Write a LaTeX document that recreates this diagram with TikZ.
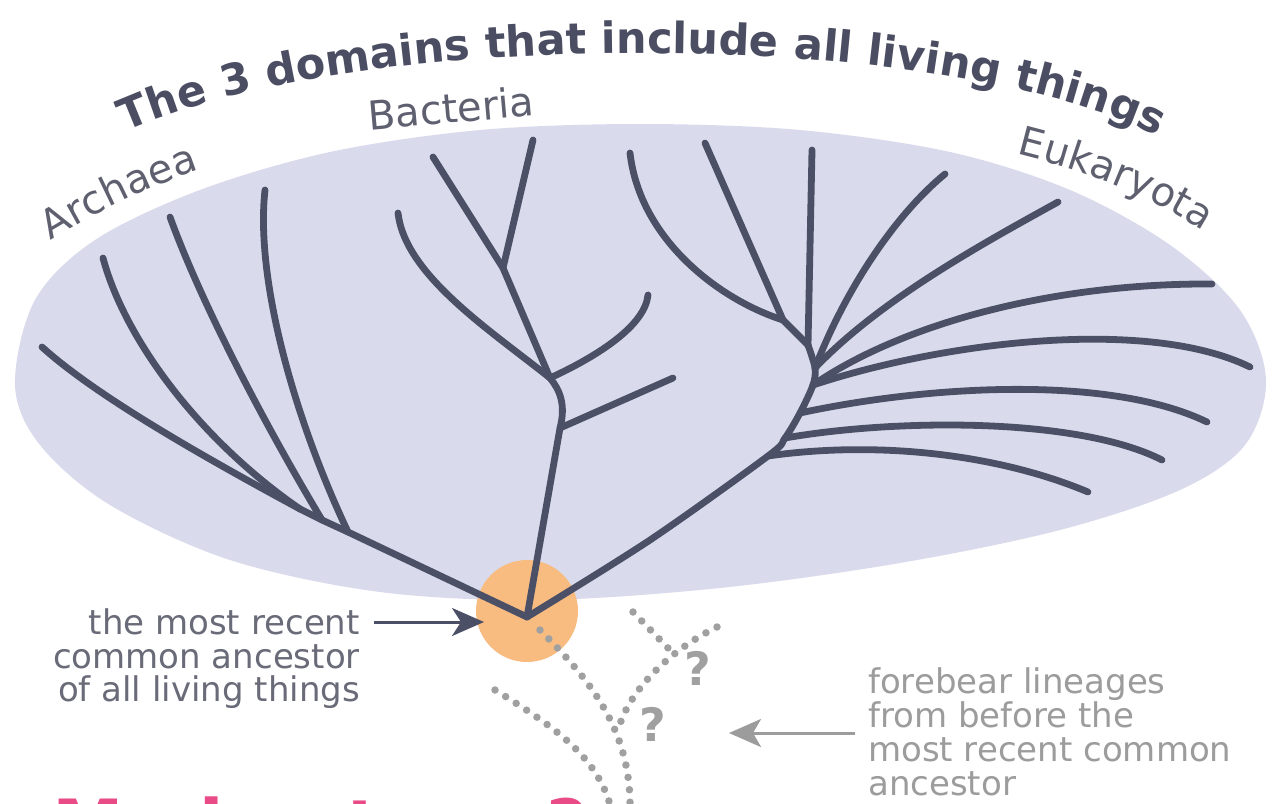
\documentclass[tikz,border=0pt]{standalone}
\usepackage{fontspec}
\setmainfont{DejaVu Sans}
\usetikzlibrary{decorations.text,arrows.meta}
\definecolor{lav}{RGB}{217,219,236}
\definecolor{branch}{RGB}{76,80,102}
\definecolor{titlec}{RGB}{75,78,98}
\definecolor{labelc}{RGB}{94,96,112}
\definecolor{leftc}{RGB}{105,107,120}
\definecolor{rightc}{RGB}{156,156,156}
\definecolor{dotc}{RGB}{160,160,160}
\definecolor{orangec}{RGB}{248,187,128}
\definecolor{pinkc}{RGB}{233,75,134}
\begin{document}
\begin{tikzpicture}[x=1pt,y=-1pt,
  br/.style={draw=branch,line width=6.8pt,line cap=round,line join=round},
  dotline/.style={draw=dotc,line width=7.5pt,line cap=round,dash pattern=on 0pt off 12.5pt},
  lefttxt/.style={text=leftc,font=\fontsize{34}{34}\selectfont,inner sep=0pt,anchor=base east},
  righttxt/.style={text=rightc,font=\fontsize{34}{34}\selectfont,inner sep=0pt,anchor=base west},
  qmark/.style={text=dotc,font=\bfseries\fontsize{46}{46}\selectfont,inner sep=0pt},
  lbl/.style={text=labelc,font=\fontsize{40}{40}\selectfont,inner sep=0pt},
]
\useasboundingbox (0,0) rectangle (1281,803);
\fill[white] (0,0) rectangle (1281,803);

% domain oval
\fill[lav] plot[smooth cycle, tension=0.55] coordinates {
  (15,385) (35,300) (95,240) (200,190) (330,152) (480,130) (640,124)
  (800,130) (950,152) (1070,190) (1170,245) (1240,310) (1266,380)
  (1245,445) (1180,490) (1060,530) (900,563) (720,588) (540,600)
  (380,592) (230,560) (110,505) (40,445)};

% ancestor disc
\fill[orangec] (527,611) circle[radius=51pt];

% tree
\coordinate (R) at (527,617);
% Archaea
\coordinate (A0) at (348,532);
\coordinate (A1) at (322,520);
\coordinate (A2) at (300,509);
\coordinate (a1) at (42,347);
\coordinate (a2) at (103,258);
\coordinate (a3) at (170,217);
\coordinate (a4) at (265,190);
\draw[br] (R) -- (A0) -- (A1) -- (A2);
\draw[br] (A2) .. controls (200,455) and (95,395) .. (a1);
\draw[br] (A2) .. controls (200,440) and (125,340) .. (a2);
\draw[br] (A1) .. controls (262,420) and (200,300) .. (a3);
\draw[br] (A0) .. controls (295,420) and (255,280) .. (a4);
% Bacteria
\coordinate (B1) at (560,428);
\coordinate (B2) at (550,378);
\coordinate (B3) at (503,268);
\coordinate (b1) at (673,378);
\coordinate (b2) at (648,295);
\coordinate (b3) at (398,213);
\coordinate (b4) at (433,157);
\coordinate (b5) at (533,140);
\draw[br] (R) -- (B1) .. controls (566,405) and (560,390) .. (B2) -- (B3) -- (b4);
\draw[br] (B1) -- (b1);
\draw[br] (B2) .. controls (600,355) and (645,325) .. (b2);
\draw[br] (B2) .. controls (490,330) and (405,275) .. (b3);
\draw[br] (B3) -- (b5);
% Eukaryota
\coordinate (E1) at (768,456);
\coordinate (E2) at (785,438);
\coordinate (E3) at (800,413);
\coordinate (E4) at (813,385);
\coordinate (E5) at (815,368);
\coordinate (E6) at (808,345);
\coordinate (E7) at (783,320);
\draw[br] plot[smooth] coordinates {(R) (650,540) (E1) (E2) (E3) (E4) (E5) (E6)};
\draw[br] (E1) .. controls (880,440) and (1000,455) .. (1088,492);
\draw[br] (E2) .. controls (900,418) and (1080,418) .. (1162,460);
\draw[br] (E3) .. controls (930,385) and (1110,375) .. (1207,422);
\draw[br] (E4) .. controls (950,340) and (1150,318) .. (1250,367);
\draw[br] (E4) .. controls (900,325) and (1050,283) .. (1212,284);
\draw[br] (E5) .. controls (880,300) and (980,245) .. (1058,202);
\draw[br] (E5) .. controls (845,290) and (895,215) .. (945,174);
\draw[br] (E6) -- (E7) -- (705,143);
\draw[br] (E6) -- (812,150);
\draw[br] (E7) .. controls (720,300) and (640,240) .. (630,153);

% forebear lineages (dotted)
\coordinate (d1) at (540,630);
\coordinate (d1e) at (630,812);
\coordinate (d2) at (495,690);
\coordinate (d2e) at (612,812);
\coordinate (d3) at (717,627);
\coordinate (d3e) at (619,727);
\coordinate (d4) at (633,612);
\coordinate (d4e) at (668,648);
\draw[dotline] (d1) .. controls (590,680) and (632,730) .. (d1e);
\draw[dotline] (d2) .. controls (560,730) and (600,760) .. (d2e);
\draw[dotline] (d3) .. controls (670,650) and (630,690) .. (d3e);
\draw[dotline] (d4) -- (d4e);
\node[qmark] (q1) at (698,668) {?};
\node[qmark] (q2) at (653,724) {?};

% labels
\path[decorate,decoration={text along path,text align=center,text color=titlec,
  text={|\bfseries\fontsize{43}{43}\selectfont|The 3 domains that include all living things}}]
  (118,135) .. controls (350,25) and (950,25) .. (1165,140);
\path[decorate,decoration={text along path,text align=center,text color=labelc,
  text={|\fontsize{40}{40}\selectfont|Archaea}}]
  (40,247) .. controls (90,215) and (150,185) .. (212,166);
\node[lbl,rotate=5] (bact) at (451,108) {Bacteria};
\path[decorate,decoration={text along path,text align=center,text color=labelc,
  text={|\fontsize{40}{40}\selectfont|Eukaryota}}]
  (1000,150) .. controls (1080,168) and (1150,195) .. (1218,240);

% left annotation
\node[lefttxt] (l1) at (360,634) {the most recent};
\node[lefttxt] (l2) at (360,668) {common ancestor};
\node[lefttxt] (l3) at (360,701) {of all living things};
\coordinate (la) at (374,622);
\coordinate (lb) at (484,622);
\draw[branch,line width=3pt,-{Stealth[length=32pt,width=28pt,inset=9pt]}] (la) -- (lb);

% right annotation
\node[righttxt] (r1) at (868,693) {forebear lineages};
\node[righttxt] (r2) at (868,727) {from before the};
\node[righttxt] (r3) at (868,761) {most recent common};
\node[righttxt] (r4) at (868,795) {ancestor};
\coordinate (ra) at (855,733);
\coordinate (rb) at (729,733);
\draw[rightc,line width=3pt,-{Stealth[length=32pt,width=28pt,inset=8pt]}] (ra) -- (rb);

% cut-off caption at the bottom edge
\begin{scope}
\clip (0,0) rectangle (1281,803);
\node[text=pinkc,font=\bfseries\fontsize{72}{72}\selectfont,anchor=base west,inner sep=0pt] (pink) at (52,851) {Made at sea?};
\end{scope}
\end{tikzpicture}
\end{document}
